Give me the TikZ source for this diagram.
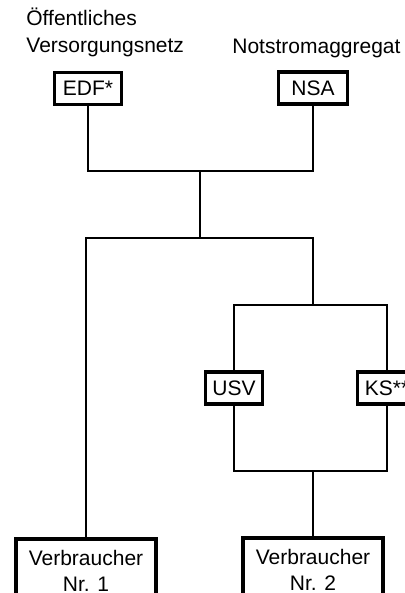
\documentclass[tikz,border=0pt]{standalone}
\usepackage{fontspec}
\setmainfont{Liberation Sans}
\begin{document}
\begin{tikzpicture}[x=0.5pt, y=-0.5pt,
  font=\fontsize{10.5}{13.5}\selectfont,
  unit/.style={draw, rectangle, line width=1.8pt, inner sep=0pt, minimum height=16pt},
  load/.style={unit, align=center, font=\fontsize{10.5}{13}\selectfont, minimum width=70pt, minimum height=32pt, anchor=north},
  wire/.style={line width=0.8pt}]
\useasboundingbox (0,0) rectangle (405,593);
% sources
\node[anchor=north west, inner sep=0pt, align=left] (netz) at (26,8) {Öffentliches\\Versorgungsnetz};
\node[anchor=base west, inner sep=0pt] (nsatext) at (232,54) {Notstromaggregat};
\node[unit, minimum width=33.5pt] (edf) at (88,88.5) {EDF*};
\node[unit, minimum width=34.5pt] (nsa) at (313,88) {NSA};
% branch units
\node[unit, minimum width=28.5pt] (usv) at (234,388) {USV};
\node[unit, minimum width=29.5pt] (ks) at (387,388) {KS**};
% loads
\node[load] (v1) at (86,537) {Verbraucher\\Nr. 1};
\node[load] (v2) at (313,536) {Verbraucher\\Nr. 2};
% junctions
\coordinate (top) at (200,171);
\coordinate (mid) at (200,238);
\coordinate (split) at (313,305);
\coordinate (join) at (313,471);
\draw[wire] (edf.south) |- (top) -| (nsa.south);
\draw[wire] (top) -- (mid);
\draw[wire] (v1.north) |- (mid) -| (split);
\draw[wire] (usv.north) |- (split) -| (ks.north);
\draw[wire] (usv.south) |- (join) -| (ks.south);
\draw[wire] (join) -- (v2.north);
\end{tikzpicture}
\end{document}
